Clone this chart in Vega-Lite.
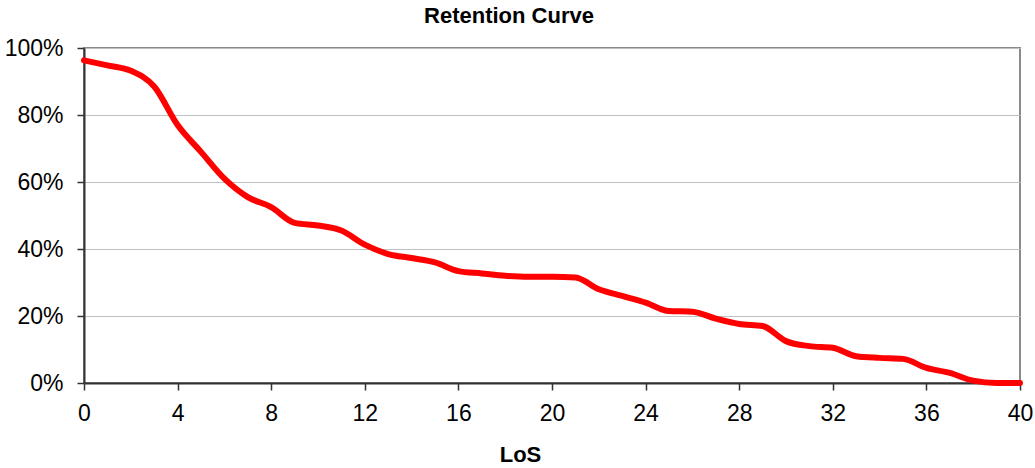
{
  "$schema": "https://vega.github.io/schema/vega-lite/v6.json",
  "width": 936,
  "height": 335,
  "autosize": {"type": "none"},
  "padding": {"left": 84, "top": 48, "right": 15, "bottom": 85},
  "background": "white",
  "title": {
    "text": "Retention Curve",
    "font": "Liberation Sans",
    "fontSize": 22,
    "fontWeight": "bold",
    "color": "black",
    "anchor": "middle",
    "dx": -43,
    "offset": 9
  },
  "config": {
    "view": {"stroke": "#8a8a8a", "strokeWidth": 2},
    "axis": {
      "labelFont": "Liberation Sans",
      "titleFont": "Liberation Sans",
      "labelFontSize": 23,
      "labelColor": "black",
      "titleColor": "black",
      "domainColor": "#333333",
      "domainWidth": 2,
      "tickColor": "#333333",
      "tickWidth": 1.5,
      "tickSize": 7,
      "gridColor": "#c0c0c0",
      "gridWidth": 1
    }
  },
  "data": {
    "values": [
      {"los": 0, "retention": 0.963},
      {"los": 1, "retention": 0.948},
      {"los": 2, "retention": 0.932},
      {"los": 3, "retention": 0.885},
      {"los": 4, "retention": 0.77},
      {"los": 5, "retention": 0.69},
      {"los": 6, "retention": 0.61},
      {"los": 7, "retention": 0.555},
      {"los": 8, "retention": 0.525},
      {"los": 9, "retention": 0.478},
      {"los": 10, "retention": 0.47},
      {"los": 11, "retention": 0.455},
      {"los": 12, "retention": 0.413},
      {"los": 13, "retention": 0.385},
      {"los": 14, "retention": 0.373},
      {"los": 15, "retention": 0.36},
      {"los": 16, "retention": 0.334},
      {"los": 17, "retention": 0.327},
      {"los": 18, "retention": 0.32},
      {"los": 19, "retention": 0.317},
      {"los": 20, "retention": 0.317},
      {"los": 21, "retention": 0.315},
      {"los": 22, "retention": 0.28},
      {"los": 23, "retention": 0.26},
      {"los": 24, "retention": 0.24},
      {"los": 25, "retention": 0.215},
      {"los": 26, "retention": 0.213},
      {"los": 27, "retention": 0.192},
      {"los": 28, "retention": 0.176},
      {"los": 29, "retention": 0.17},
      {"los": 30, "retention": 0.125},
      {"los": 31, "retention": 0.11},
      {"los": 32, "retention": 0.105},
      {"los": 33, "retention": 0.08},
      {"los": 34, "retention": 0.075},
      {"los": 35, "retention": 0.072},
      {"los": 36, "retention": 0.045},
      {"los": 37, "retention": 0.03},
      {"los": 38, "retention": 0.007},
      {"los": 39, "retention": 0.0},
      {"los": 40, "retention": 0.0}
    ]
  },
  "mark": {"type": "line", "color": "#ff0000", "strokeWidth": 6, "interpolate": "monotone", "strokeCap": "round"},
  "encoding": {
    "x": {
      "field": "los",
      "type": "quantitative",
      "scale": {"domain": [0, 40], "nice": false, "zero": false},
      "axis": {
        "title": "LoS",
        "titleFontSize": 22,
        "titleFontWeight": "bold",
        "titlePadding": 19,
        "titleX": 436,
        "values": [0, 4, 8, 12, 16, 20, 24, 28, 32, 36, 40],
        "grid": false,
        "labelPadding": 12,
        "labelFlush": false
      }
    },
    "y": {
      "field": "retention",
      "type": "quantitative",
      "scale": {"domain": [0, 1], "nice": false},
      "axis": {
        "title": null,
        "format": ".0%",
        "values": [0, 0.2, 0.4, 0.6, 0.8, 1],
        "labelPadding": 14,
        "grid": true
      }
    }
  }
}
